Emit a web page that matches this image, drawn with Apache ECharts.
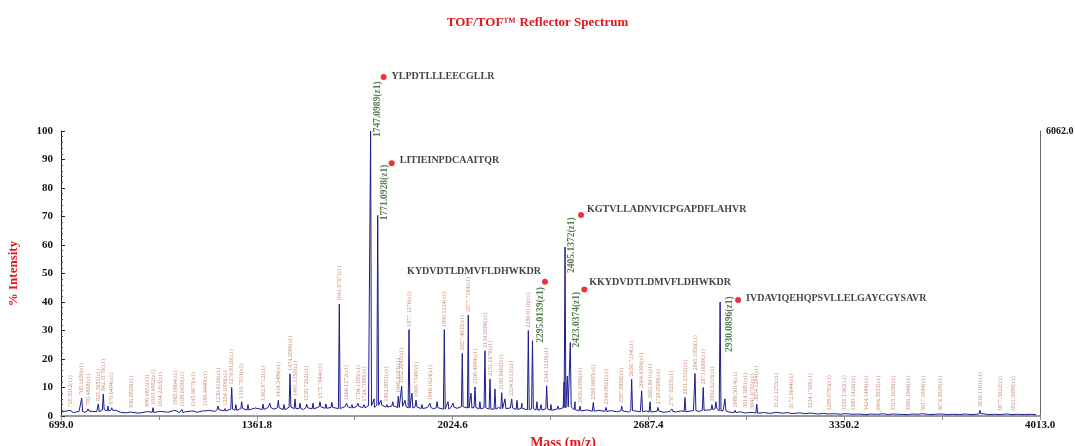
<!DOCTYPE html>
<html><head><meta charset="utf-8">
<script src="https://cdn.jsdelivr.net/npm/echarts@6/dist/echarts.min.js"></script>
<style>html,body{margin:0;padding:0;background:#fff}#c{width:1075px;height:446px}</style>
</head><body><div id="c"></div>
<script>
// ---------------- DATA ----------------
const xTickLabels = ['699.0', '1361.8', '2024.6', '2687.4', '3350.2', '4013.0'];
const rightAxisMax = 6062.0;
// baseline noise (% intensity), sampled every 20 Da starting at 700 Da
const baseStart = 700, baseStep = 20;
const baseInt = [
  1.4,1.8,1.2,1.6,1.3,1.7,1.5,2.2,1.8,2.0,1.3,1.1,1.4,1.0,1.3,1.5,
  1.2,1.6,1.3,1.9,1.2,1.5,1.7,1.3,1.8,2.0,1.6,2.2,1.8,2.4,2.0,
  2.6,2.1,2.8,2.3,3.0,2.4,2.9,2.2,3.1,2.6,2.3,2.9,2.5,3.2,2.7,
  3.0,2.6,3.3,2.8,3.4,2.9,3.6,3.0,3.8,3.1,3.5,3.0,3.4,2.8,3.2,
  2.6,3.0,2.5,2.9,2.4,3.1,2.7,3.3,2.8,3.0,2.5,2.9,2.4,3.0,2.6,
  2.8,2.3,2.7,2.2,2.6,2.1,2.5,2.0,2.4,2.9,3.2,2.2,1.8,2.1,1.7,
  2.0,1.6,1.9,1.5,1.8,1.4,1.9,1.5,1.8,1.4,1.7,1.3,1.6,1.4,1.8,
  1.5,1.9,1.6,2.0,2.2,2.6,1.8,1.4,1.2,1.5,1.1,1.3,1.0,1.2,0.9,
  1.3,1.0,1.2,0.9,1.1,0.8,1.0,0.7,0.9,0.7,0.8,0.6,0.8,0.6,0.7,
  0.5,0.7,0.6,0.8,0.5,0.7,0.6,0.5,0.7,0.6,0.8,0.5,0.6,0.7,0.5,
  0.6,0.5,0.7,0.5,0.6,0.8,0.5,0.6,0.5,0.7,0.5,0.6,0.5,0.6,0.5
];
// peaks carrying a small m/z label
const lblMass = [
  729.5012, 769.1650, 790.4868, 825.3051, 842.1176, 870.6494, 936.0820, 990.0853,
  1010.4952, 1034.2263, 1085.0964, 1108.6450, 1145.8475, 1186.4449, 1230.4126, 1254.1098,
  1276.8126, 1310.7031, 1382.8712, 1434.5496, 1474.2080, 1491.1350, 1530.7262, 1575.7044,
  1641.0707, 1666.1272, 1704.1185, 1724.7090, 1802.0951, 1840.8103, 1852.2045, 1877.1276,
  1900.7349, 1948.1024, 1996.5124, 2057.4035, 2077.7184, 2100.4094, 2134.0598, 2151.1679,
  2190.8492, 2224.6215, 2280.9116, 2343.1210, 2456.0396, 2500.8485, 2544.0921, 2597.0858,
  2630.7334, 2664.6304, 2692.8411, 2720.0588, 2767.0205, 2811.2332, 2845.1850, 2873.0069,
  2902.6218, 2980.5014, 3014.3091, 3041.0703, 3054.1294, 3122.1255, 3172.0644, 3234.1769,
  3299.0793, 3350.1342, 3380.1426, 3424.1484, 3464.5053, 3515.1659, 3566.1848, 3617.1984,
  3674.5029, 3810.1101, 3877.5022, 3921.5099
];
const lblInt = [
  2.0, 6.3, 2.5, 4.2, 7.7, 2.9, 1.8, 2.2,
  2.9, 2.0, 2.6, 2.3, 2.0, 2.4, 3.5, 2.6,
  10.0, 5.0, 4.2, 5.5, 14.8, 6.0, 4.2, 5.0,
  39.3, 4.5, 4.5, 4.0, 4.0, 7.0, 10.5, 30.3,
  5.6, 4.5, 30.3, 22.0, 35.4, 10.2, 22.9, 13.0,
  8.2, 6.0, 30.0, 10.6, 3.5, 4.7, 3.0, 3.5,
  12.9, 8.8, 5.0, 3.0, 2.5, 6.5, 14.9, 10.0,
  4.0, 2.0, 1.8, 1.5, 4.2, 1.8, 1.5, 1.6,
  0.9, 0.9, 0.8, 0.8, 0.7, 0.8, 0.8, 0.7,
  0.7, 2.0, 0.6, 0.6
];
// other (unlabelled) peaks
const extraMass = [858.1, 888.6, 1291.0, 1332.0, 1359.0, 1406.0, 1454.0, 1508.0, 1552.0, 1596.0,
  1616.0, 1684.0, 1759.0, 1782.0, 1822.0, 1863.6, 1887.0, 1921.0, 1972.0, 2009.0,
  2026.0, 2087.0, 2117.0, 2168.0, 2202.0, 2242.6, 2259.5, 2310.0, 2324.0, 2357.7,
  2381.0, 2402.0, 2413.0, 2439.0, 2916.0, 2946.6];
const extraInt = [3.5, 2.5, 4.0, 4.0, 3.5, 4.5, 4.0, 4.5, 4.5, 4.2,
  4.8, 4.0, 6.0, 5.5, 5.0, 5.5, 8.0, 4.0, 5.0, 5.0,
  4.5, 8.0, 5.0, 9.5, 6.0, 5.5, 4.5, 5.0, 4.0, 4.0,
  3.5, 12.0, 14.0, 5.0, 5.0, 6.0];
// identified peptides
const majorMass = [1747.0989, 1771.0928, 2295.0139, 2405.1372, 2423.0374, 2930.0896];
const majorInt = [100, 70.4, 26.4, 59.3, 25.8, 40.0];
const majorPep = ['YLPDTLLLEECGLLR', 'LITIEINPDCAAITQR', 'KYDVDTLDMVFLDHWKDR',
  'KGTVLLADNVICPGAPDFLAHVR', 'KKYDVDTLDMVFLDHWKDR', 'IVDAVIQEHQPSVLLELGAYCGYSAVR'];

// ---------------- LAYOUT / STYLE (pixel offsets of annotations) ----------------
const majorLayout = [
  { lab: [7, 6],   dot: [13, -54],  txtPos: [11, 2],  txtAlign: 'left' },
  { lab: [7, 5],   dot: [14, -52],  txtPos: [11, 0],  txtAlign: 'left' },
  { lab: [8.5, 2], dot: [12.5, -59], txtPos: [-1, -7], txtAlign: 'right' },
  { lab: [7, 26],  dot: [16, -32],  txtPos: [9, -3],  txtAlign: 'left' },
  { lab: [6, 5],   dot: [14, -53],  txtPos: [8, -4],  txtAlign: 'left' },
  { lab: [9, 50],  dot: [18, -2],   txtPos: [11, 1],  txtAlign: 'left' }
];
const SERIF = '"Liberation Serif","DejaVu Serif",serif';

// ---------------- BUILD SPECTRUM ----------------
function baseAt(m) {
  let i = Math.round((m - baseStart) / baseStep);
  i = Math.max(0, Math.min(baseInt.length - 1, i));
  return baseInt[i];
}
const pts = [];
baseInt.forEach((v, i) => pts.push([baseStart + i * baseStep, v]));
function addPeak(m, h) {
  const f = baseAt(m);
  pts.push([m - 3, f], [m, h], [m + 3, f]);
}
lblMass.forEach((m, i) => addPeak(m, lblInt[i]));
extraMass.forEach((m, i) => addPeak(m, extraInt[i]));
majorMass.forEach((m, i) => addPeak(m, majorInt[i]));
pts.sort((a, b) => a[0] - b[0]);
pts.unshift([699, baseInt[0]]);

const chart = echarts.init(document.getElementById('c'), null, { renderer: 'canvas' });
chart.setOption({
  animation: false,
  backgroundColor: '#fff',
  title: {
    text: 'TOF/TOF\u2122 Reflector Spectrum', left: 'center', top: 11,
    textStyle: { fontFamily: SERIF, fontSize: 13, fontWeight: 'bold', color: '#e3161b' }
  },
  grid: { left: 61, right: 35, top: 131, bottom: 30, containLabel: false, outerBoundsMode: 'none' },
  xAxis: {
    type: 'value', min: 699, max: 4013, interval: 662.8,
    name: 'Mass (m/z)', nameLocation: 'middle', nameGap: 17,
    nameTextStyle: { fontFamily: SERIF, fontSize: 14, fontWeight: 'bold', color: '#e3161b', padding: [0, 0, 0, 25] },
    axisLine: { lineStyle: { color: '#9a9a9a', width: 2 } },
    axisTick: { show: true, length: 4, lineStyle: { color: '#888' } },
    minorTick: { show: true, splitNumber: 2, length: 4, lineStyle: { color: '#888' } },
    splitLine: { show: false },
    axisLabel: {
      margin: 4, fontFamily: SERIF, fontSize: 11, fontWeight: 'bold', color: '#111',
      showMaxLabel: true, showMinLabel: true,
      formatter: v => xTickLabels[Math.round((v - 699) / 662.8)]
    }
  },
  yAxis: [{
    type: 'value', min: 0, max: 100, interval: 10,
    name: '% Intensity', nameLocation: 'middle', nameGap: 29, nameRotate: 90,
    nameTextStyle: { fontFamily: SERIF, fontSize: 13, fontWeight: 'bold', color: '#e3161b', padding: [0, 0, 12, 0] },
    axisLine: { show: true, lineStyle: { color: '#222', width: 1 } },
    axisTick: { show: true, inside: true, length: 4, lineStyle: { color: '#222' } },
    minorTick: { show: true, splitNumber: 5, length: 2, lineStyle: { color: '#444' } },
    splitLine: { show: false },
    axisLabel: { margin: 8, fontFamily: SERIF, fontSize: 11, fontWeight: 'bold', color: '#111' }
  }, {
    type: 'value', min: 0, max: rightAxisMax, interval: rightAxisMax, position: 'right',
    axisLine: { show: true, lineStyle: { color: '#666', width: 1 } },
    axisTick: { show: false }, splitLine: { show: false },
    axisLabel: {
      margin: 6, fontFamily: SERIF, fontSize: 10, fontWeight: 'bold', color: '#111',
      formatter: v => (v === rightAxisMax ? rightAxisMax.toFixed(1) : '')
    }
  }],
  series: [{
    type: 'line', data: pts, showSymbol: false, symbol: 'none', silent: true,
    lineStyle: { color: '#1c1c8e', width: 1 }, z: 2
  }, {
    // small m/z labels
    type: 'scatter', silent: true, symbol: 'circle', symbolSize: 0,
    itemStyle: { color: 'rgba(0,0,0,0)' },
    data: lblMass.map((m, i) => [m, lblInt[i]]),
    label: {
      show: true, position: [0, -3], rotate: 90, align: 'left', verticalAlign: 'middle',
      fontFamily: SERIF, fontSize: 6, color: '#bb6a52',
      formatter: p => p.value[0].toFixed(4) + '(z1)'
    }, z: 3
  }, {
    // identified peak m/z labels
    type: 'scatter', silent: true, symbol: 'circle', symbolSize: 0,
    itemStyle: { color: 'rgba(0,0,0,0)' },
    data: majorMass.map((m, i) => ({
      value: [m, majorInt[i]],
      label: { position: majorLayout[i].lab }
    })),
    label: {
      show: true, rotate: 90, align: 'left', verticalAlign: 'middle',
      fontFamily: SERIF, fontSize: 9.5, fontWeight: 'bold', color: '#2c5e2c',
      formatter: p => p.value[0].toFixed(4) + '(z1)'
    }, z: 4
  }, {
    // red dots + peptide sequences
    type: 'scatter', silent: true, symbol: 'circle', symbolSize: 6,
    itemStyle: { color: '#e8000b' },
    data: majorMass.map((m, i) => ({
      value: [m, majorInt[i]], name: majorPep[i],
      symbolOffset: majorLayout[i].dot,
      label: { position: majorLayout[i].txtPos, align: majorLayout[i].txtAlign }
    })),
    label: {
      show: true, verticalAlign: 'middle',
      fontFamily: SERIF, fontSize: 10, fontWeight: 'bold', color: '#111',
      formatter: p => p.name
    }, z: 5
  }]
});
</script>
</body></html>
